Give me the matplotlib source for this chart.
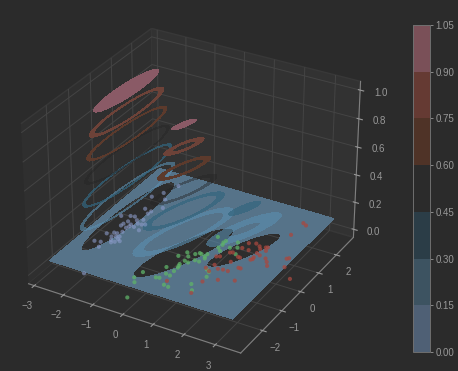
import numpy as np
import matplotlib
matplotlib.use('Agg')
import matplotlib.pyplot as plt
from matplotlib.colors import ListedColormap, BoundaryNorm
from matplotlib.cm import ScalarMappable

plt.rcParams['font.family'] = ['Liberation Sans', 'DejaVu Sans']

blue_x = [-1.87,-2.57,-2.38,-2.28,-2.48,-2.26,-2.31,-2.21,-2.17,-2.14,-2.05,-1.91,-2.02,-2.10,-2.01,-2.35,-2.12,-2.64,-2.15,-2.11,-2.12,-1.97,-2.09,-1.74,-1.84,-1.75,-1.94,-2.26,-2.39,-2.23,-2.01,-1.99,-2.43,-2.23,-1.99,-1.79,-2.05,-2.29,-1.97,-2.34]
blue_y = [-2.31,-0.86,-0.82,-1.05,-0.39,-0.46,-0.26,-0.25,-0.61,-0.41,-0.36,-0.55,-0.64,-0.71,-0.49,0.13,-0.12,0.55,0.10,0.20,0.30,0.24,0.56,0.16,0.44,0.49,0.67,0.70,0.67,1.18,1.00,1.14,1.81,2.14,1.86,1.45,2.66,0.40,0.43,0.24]
green_x = [-0.12,-0.50,-0.36,-0.43,0.04,0.14,0.44,0.60,0.19,0.34,0.02,0.32,0.32,0.27,0.01,0.31,0.44,0.14,0.28,0.39,0.55,0.69,0.55,0.70,0.70,0.75,0.49,0.83,0.81,0.80,0.93,1.10,1.16,1.29,1.42,1.10,1.22,1.29,1.10,1.28,0.30,0.48,0.79]
green_y = [-2.71,-1.84,-2.03,-1.52,-1.57,-1.54,-1.76,-1.79,-1.29,-1.32,-1.02,-1.09,-0.90,-0.73,-0.41,-0.53,-0.56,-0.15,-0.31,-0.12,-0.38,-0.38,-0.04,-0.10,0.03,-0.18,0.90,0.62,0.83,0.45,0.33,0.59,0.92,0.69,0.39,-0.61,-0.69,-0.91,-1.39,-1.63,-0.82,-0.02,0.73]
red_x = [1.33,0.41,1.31,1.20,1.65,2.09,1.67,1.51,1.36,1.17,1.03,0.99,1.08,1.50,1.85,1.92,1.23,1.55,1.30,1.42,1.46,1.64,1.66,1.82,1.91,2.01,2.06,2.10,1.93,1.96,1.94,2.06,2.29,2.41,2.52,2.99,2.83,2.88,3.42,2.32,2.33,2.46,1.62,1.98]
red_y = [-1.74,-1.57,-1.15,-0.65,-0.89,-0.71,-0.41,-0.41,-0.44,-0.32,-0.55,0.05,0.10,0.01,-0.14,-0.14,0.39,0.31,0.43,0.74,1.03,0.73,1.11,1.03,0.92,1.06,1.09,0.92,0.71,0.49,0.35,0.65,0.59,0.46,0.30,0.47,0.85,0.90,0.05,1.94,2.62,2.55,0.30,0.40]

# class blobs: centre x, centre y, long, short, angle, peak, power
blob_cx = [-2.13, 0.35, 1.79]
blob_cy = [0.24, -0.61, 0.25]
blob_long = [1.90, 1.23, 1.34]
blob_short = [0.40, 0.36, 0.40]
blob_angle = [86.4, 69.7, 66.6]
blob_peak = [1.0, 1.0, 0.35]
blob_power = [7.2, 2.0, 2.0]

levels = [0, 0.15, 0.30, 0.45, 0.60, 0.75, 0.90, 1.05]
plane_colors = ['#567389', '#5a8fb099', '#33667fb3', '#25252570', '#5c3a2c', '#6d4238', '#8a5a66']
bar_colors = ['#4f6075', '#3d5361', '#2b3d47', '#2b2b2b', '#4f3327', '#653a33', '#7a5058']

bg = '#2b2b2b'
fg = '#989898'

x = np.linspace(-2.8, 3.25, 400)
y = np.linspace(-2.65, 2.77, 400)
X, Y = np.meshgrid(x, y)
Z = np.zeros_like(X)
for i in range(3):
    t = np.radians(blob_angle[i])
    dx = X - blob_cx[i]
    dy = Y - blob_cy[i]
    u = (dx*np.cos(t) + dy*np.sin(t)) / blob_long[i]
    v = (-dx*np.sin(t) + dy*np.cos(t)) / blob_short[i]
    r = np.sqrt(u**2 + v**2)
    Z = np.maximum(Z, blob_peak[i]*np.exp(-r**blob_power[i]))

fig = plt.figure(figsize=(4.58, 3.71), dpi=100, facecolor=bg)
ax = fig.add_axes([-0.0051, -0.0158, 0.835, 1.018], projection='3d', facecolor=bg)
ax.computed_zorder = False

ax.contourf(X, Y, Z, levels=levels, colors=plane_colors, zorder=1)

ax.scatter(blue_x, blue_y, 0, c='#8b9bc9', s=9, alpha=0.6, linewidths=0, zorder=3)
ax.scatter(green_x, green_y, 0, c='#5fb268', s=9, alpha=0.75, linewidths=0, zorder=3)
ax.scatter(red_x, red_y, 0, c='#a8483f', s=9, alpha=0.75, linewidths=0, zorder=3)

ax.set_xlim(-3.2, 3.8)
ax.set_ylim(-3.1, 3.0)
ax.set_zlim(-0.06, 1.06)
ax.set_xticks([-3, -2, -1, 0, 1, 2, 3])
ax.set_yticks([-2, -1, 0, 1, 2])
ax.set_zticks([0, 0.2, 0.4, 0.6, 0.8, 1.0])
ax.tick_params(axis='both', colors=fg, labelsize=7, pad=0, length=2)
ax.tick_params(axis='z', colors=fg, labelsize=7, pad=1)

pane_cols = {'x': '#2f2f2f', 'y': '#323232', 'z': '#2d2d2d'}
for name, axis in [('x', ax.xaxis), ('y', ax.yaxis), ('z', ax.zaxis)]:
    axis.set_pane_color(pane_cols[name])
    axis.pane.set_edgecolor('#383838')
    axis.line.set_color('#7f7f7f')
    axis.line.set_linewidth(0.8)
    axis._axinfo['grid']['color'] = '#444444'
    axis._axinfo['grid']['linewidth'] = 0.7
    axis._axinfo['tick']['color'] = '#7f7f7f'

cax = fig.add_axes([413/458, 1 - 352/371, 17/458, 327/371])
sm = ScalarMappable(norm=BoundaryNorm(levels, len(bar_colors)), cmap=ListedColormap(bar_colors))
cb = fig.colorbar(sm, cax=cax, ticks=levels, format='%.2f')
cb.ax.tick_params(colors=fg, labelsize=7, length=2, width=0.6, pad=2)
cb.outline.set_edgecolor('#6f6f6f')
cb.outline.set_linewidth(0.7)

fig.savefig('out.png', dpi=100, facecolor=bg)
